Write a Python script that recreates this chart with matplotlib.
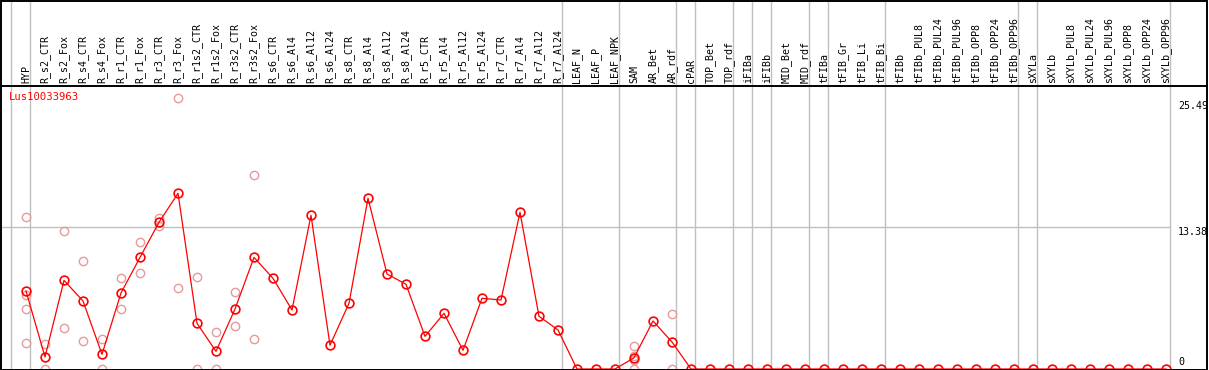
import matplotlib
matplotlib.use("Agg")
import matplotlib.pyplot as plt
from matplotlib.transforms import blended_transform_factory
from matplotlib.patches import Rectangle
from matplotlib.lines import Line2D

# ---------------- data ----------------
gene = "Lus10033963"
columns = ["HYP", "R_s2_CTR", "R_s2_Fox", "R_s4_CTR", "R_s4_Fox", "R_r1_CTR", "R_r1_Fox",
           "R_r3_CTR", "R_r3_Fox", "R_r1s2_CTR", "R_r1s2_Fox", "R_r3s2_CTR", "R_r3s2_Fox",
           "R_s6_CTR", "R_s6_Al4", "R_s6_Al12", "R_s6_Al24", "R_s8_CTR", "R_s8_Al4",
           "R_s8_Al12", "R_s8_Al24", "R_r5_CTR", "R_r5_Al4", "R_r5_Al12", "R_r5_Al24",
           "R_r7_CTR", "R_r7_Al4", "R_r7_Al12", "R_r7_Al24", "LEAF_N", "LEAF_P", "LEAF_NPK",
           "SAM", "AR_Bet", "AR_rdf", "cPAR", "TOP_Bet", "TOP_rdf", "iFIBa", "iFIBb",
           "MID_Bet", "MID_rdf", "tFIBa", "tFIB_Gr", "tFIB_Li", "tFIB_Bi", "tFIBb",
           "tFIBb_PUL8", "tFIBb_PUL24", "tFIBb_PUL96", "tFIBb_OPP8", "tFIBb_OPP24",
           "tFIBb_OPP96", "sXYLa", "sXYLb", "sXYLb_PUL8", "sXYLb_PUL24", "sXYLb_PUL96",
           "sXYLb_OPP8", "sXYLb_OPP24", "sXYLb_OPP96"]
means = [7.34, 1.13, 8.34, 6.40, 1.38, 7.15, 10.50, 13.80, 16.53, 4.30, 1.66, 5.64, 10.50,
         8.53, 5.55, 14.46, 2.23, 6.18, 16.06, 8.94, 7.97, 3.07, 5.24, 1.76, 6.65,
         6.49, 14.74, 4.96, 3.67, 0, 0, 0,
         1.05, 4.52, 2.54, 0, 0, 0, 0, 0,
         0, 0, 0, 0, 0, 0, 0,
         0, 0, 0, 0, 0, 0, 0, 0,
         0, 0, 0, 0, 0, 0]
# replicate measurements (column name -> values)
rep_columns = ["HYP", "R_s2_CTR", "R_s2_Fox", "R_s4_CTR", "R_s4_Fox", "R_r1_CTR", "R_r1_Fox",
               "R_r3_CTR", "R_r3_Fox", "R_r1s2_CTR", "R_r1s2_Fox", "R_r3s2_CTR", "R_r3s2_Fox",
               "SAM", "AR_rdf"]
rep_values = [[14.27, 6.96, 5.64, 2.42], [2.32, 0.0], [12.95, 3.86], [10.13, 2.63],
              [2.82, 0.0], [8.53, 5.64], [11.98, 9.00], [14.20, 13.45], [25.49, 7.59],
              [8.62, 0.0], [3.45, 0.0], [7.21, 4.01], [18.22, 2.82],
              [2.16, 1.25, 0.80, 0.0], [5.17, 0.0]]
# group separators drawn right of these columns (index -1 = left of first)
sep_after = [-1, 0, 28, 31, 34, 35, 37, 38, 39, 41, 42, 45, 52, 53, 60]
ytick_vals = [25.49, 13.38, 0]

# ---------------- layout ----------------
W, H = 1209, 370
DPI = 100
fig = plt.figure(figsize=(W / DPI, H / DPI), dpi=DPI)
fig.patch.set_facecolor("white")

ax_left_px, ax_right_px = 1, 1207
ax_top_px, ax_bot_px = 86, 369
ax = fig.add_axes([ax_left_px / W, (H - ax_bot_px) / H,
                   (ax_right_px - ax_left_px) / W, (ax_bot_px - ax_top_px) / H])
x0_px, dx_px = 26, 19
ax.set_xlim((ax_left_px - x0_px) / dx_px, (ax_right_px - x0_px) / dx_px)
ppu = 10.63
ax.set_ylim(0, (ax_bot_px - ax_top_px) / ppu)
ax.set_xticks([])
ax.set_yticks([])
for s in ax.spines.values():
    s.set_visible(False)

mono = "DejaVu Sans Mono"
fs = 7.2
red = "#ff0000"
pink = "#e89a9a"
gray = "#c0c0c0"

xs = list(range(len(columns)))
ytop_axes = (ax_bot_px - 1) / (ax_bot_px - ax_top_px)

# separators
for s in sep_after:
    ax.axvline(s + 0.22, ymin=0, ymax=ytop_axes, color=gray, lw=1.0, clip_on=False, zorder=1)
# horizontal reference line
ax.plot([ax.get_xlim()[0], 60.22], [13.38, 13.38], color=gray, lw=1.0, zorder=1)

# replicates
for name, vals in zip(rep_columns, rep_values):
    i = columns.index(name)
    ax.plot([i] * len(vals), vals, linestyle="none", marker="o", markersize=6.0,
            markerfacecolor="none", markeredgecolor=pink, markeredgewidth=1.0, zorder=2)

# mean line
ax.plot(xs, means, color=red, lw=0.9, marker="o", markersize=6.3,
        markerfacecolor="none", markeredgecolor=red, markeredgewidth=1.2, zorder=3)

# header labels
trans = blended_transform_factory(ax.transData, ax.transAxes)
lab_y = 1 + 3 / (ax_bot_px - ax_top_px)
for i, name in enumerate(columns):
    ax.text(i, lab_y, name, rotation=90, ha="center", va="bottom", fontsize=fs,
            family=mono, transform=trans, clip_on=False)

# gene name
ax.text((9 - x0_px) / dx_px, (ax_bot_px - 92) / ppu, gene, color=red, fontsize=7.6,
        family=mono, ha="left", va="top")

# y value labels
ylab_x = (1178 - x0_px) / dx_px
ax.text(ylab_x, ytick_vals[0] - 0.25, "%.2f" % ytick_vals[0], fontsize=fs, family=mono,
        ha="left", va="top")
ax.text(ylab_x, ytick_vals[1], "%.2f" % ytick_vals[1], fontsize=fs, family=mono,
        ha="left", va="top")
ax.text(ylab_x, 0.2, "%d" % ytick_vals[2], fontsize=fs, family=mono, ha="left", va="bottom")

# frame
fig.add_artist(Rectangle((0.5 / W, 1 - 369.5 / H), 1206.5 / W, 369 / H, fill=False,
                         edgecolor="black", lw=1.4, transform=fig.transFigure))
fig.add_artist(Line2D([0.5 / W, 1207 / W], [1 - 85.5 / H, 1 - 85.5 / H], color="black",
                      lw=1.4, transform=fig.transFigure))

fig.savefig("out.png", dpi=DPI)
